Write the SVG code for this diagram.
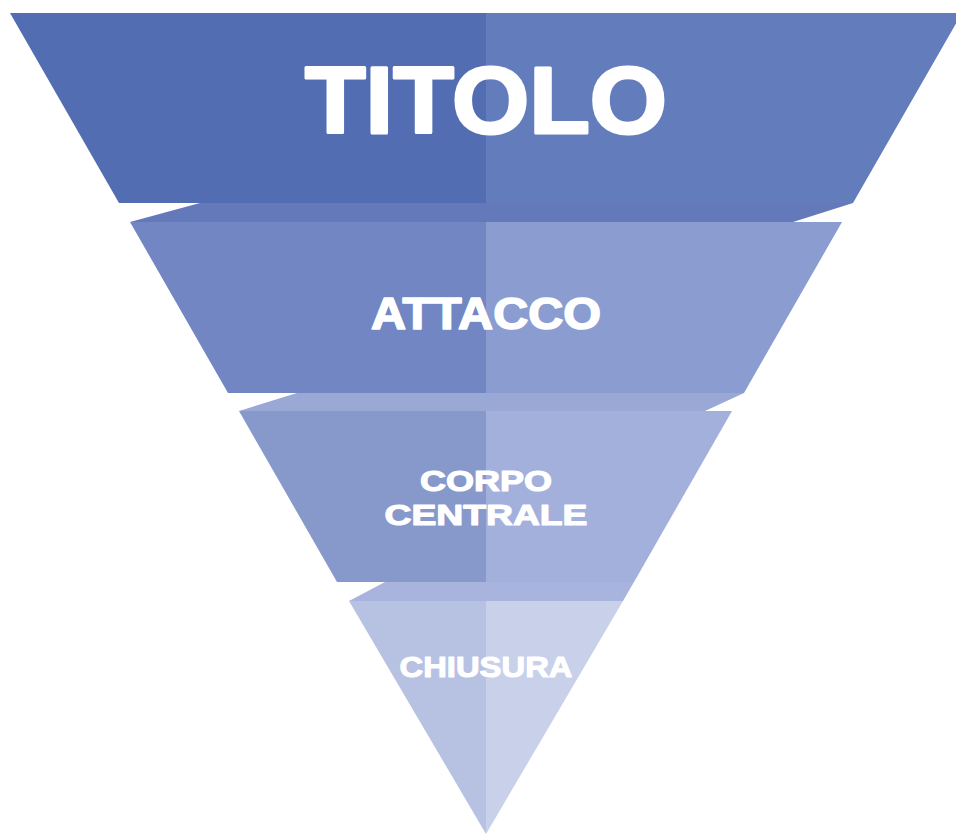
<svg xmlns="http://www.w3.org/2000/svg" width="956" height="834" viewBox="0 0 956 834">
<style>
.lbl{font-family:"Liberation Sans",Arial,sans-serif;font-weight:bold;fill:#ffffff;stroke:#ffffff;stroke-linejoin:round;text-anchor:middle}
</style>
<rect width="956" height="834" fill="#ffffff"/>
<g id="folds">
<polygon points="200,203 853,203 793,222 130,222" fill="#6479b9"/>
<polygon points="297,393 744,393 705,411 239,411" fill="#99a8d5"/>
<polygon points="385,582 634,582 623,601 349,601" fill="#a8b4dd"/>
</g>
<g id="titolo">
<polygon points="10,13 486,13 486,203 119,203" fill="#526db1"/>
<polygon points="486,13 962,13 853,203 486,203" fill="#637cbb"/>
<text class="lbl" x="486" y="133" font-size="94" stroke-width="3" textLength="362" lengthAdjust="spacingAndGlyphs">TITOLO</text>
</g>
<g id="attacco">
<polygon points="130,222 486,222 486,393 228,393" fill="#7186c3"/>
<polygon points="486,222 842,222 744,393 486,393" fill="#8a9cd0"/>
<text class="lbl" x="486" y="328.5" font-size="44" stroke-width="1.6" textLength="230" lengthAdjust="spacingAndGlyphs">ATTACCO</text>
</g>
<g id="corpo">
<polygon points="239,411 486,411 486,582 337,582" fill="#8798cb"/>
<polygon points="486,411 732,411 634,582 486,582" fill="#a3b0dc"/>
<text class="lbl" x="486" y="491" font-size="30" stroke-width="1.2" textLength="132" lengthAdjust="spacingAndGlyphs">CORPO</text>
<text class="lbl" x="486" y="525" font-size="30" stroke-width="1.2" textLength="203" lengthAdjust="spacingAndGlyphs">CENTRALE</text>
</g>
<g id="chiusura">
<polygon points="349,601 486,601 486,834" fill="#b7c2e3"/>
<polygon points="486,601 623,601 486,834" fill="#c8d0ea"/>
<text class="lbl" x="486" y="677" font-size="29" stroke-width="1.1" textLength="173" lengthAdjust="spacingAndGlyphs">CHIUSURA</text>
</g>
</svg>
